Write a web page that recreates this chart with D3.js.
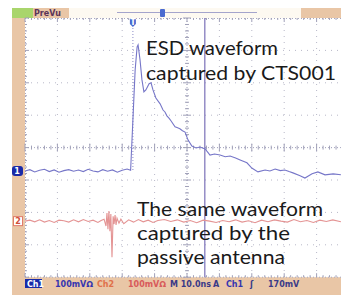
<!doctype html>
<html>
<head>
<meta charset="utf-8">
<style>
  body { margin: 0; background: #fff; }
  .note { font-family: Lato, "Noto Sans", sans-serif; font-size: 19px; fill: #1a1a1a; }
  .stat { font-family: "DejaVu Sans", sans-serif; font-size: 8px; font-weight: bold; }
</style>
<script src="https://d3js.org/d3.v7.min.js"></script>
</head>
<body>
<svg width="341" height="295"></svg>
<script>
// time in ns (10 ns/div), amplitude in mV relative to each channel's marker (100 mV/div)
var ch1Time = [0,1.5,3,4.5,6,7.5,9,10.5,12,13.5,15,16.5,18,19.5,21,22.5,24,25.5,27,28.5,30,31.5,32.6,33.3,34,34.6,34.9,35.5,36.1,36.7,37.3,38.3,38.9,39.5,40.4,41.2,41.7,42.6,43.2,43.8,44.5,45.1,46.3,47.1,47.8,48.6,49.4,50.3,51.5,52.8,54,55.6,57.1,58.5,60.2,61.8,63.3,65,66.4,68.5,70,71.9,74.1,75.6,77.2,78.8,80.2,81.5,82.7,84.9,86.4,88.6,90.4,92.6,95.1,97.5];
var ch1Val  = [0,4,-3,2,5,-2,3,-4,1,4,-1,3,-2,5,0,-3,4,-1,3,-4,2,6,2,157,312,383,389,343,281,244,250,269,272,250,225,214,207,188,182,170,162,154,136,133,130,124,120,96,77,71,74,68,49,52,49,44,46,40,34,25,9,-3,3,0,6,1,3,-2,-6,-15,-22,-9,-3,-12,-9,-12];
var ch2Time = [0,1.5,3,4.5,6,7.5,9,10.5,12,13.5,15,16.5,18,19.5,21,22.5,23.5,24.4,25,25.3,25.6,25.9,26.2,26.5,26.85,27.2,27.5,27.8,28.1,28.4,29,29.6,30.5,32,33.5,35,36.5,38,39.5,41,43,45,47,49,51,53,55,57,59,61,63,65,67,69,71,73,75,77,79,81,83,85,87,89,91,93,95,97.5];
var ch2Val  = [0,3,-2,4,-3,2,-4,3,1,-3,4,-2,5,-1,3,-4,2,6,-15,25,-25,31,-31,22,-111,15,-9,19,-12,9,-6,6,-8,4,-3,5,-2,3,-4,2,5,-1,4,-3,2,-5,3,0,-4,2,-2,4,-3,1,-5,3,-2,4,0,-3,5,-2,2,-4,3,-1,4,-2];
var ch1Offset = -72;   // ch1 ground marker, mV from screen centre
var ch2Offset = -227;  // ch2 ground marker
var statusItems = [
  {t: "Ch1", x: 27, c: "#fff"},
  {t: "100mV\u2126", x: 55, c: "#3535b0"},
  {t: "Ch2", x: 97, c: "#e0704a"},
  {t: "100mV\u2126", x: 128, c: "#d85a5a"},
  {t: "M 10.0ns", x: 170, c: "#3a3a88"},
  {t: "A", x: 213, c: "#3a3a88"},
  {t: "Ch1", x: 226, c: "#3535b0"},
  {t: "\u0283", x: 250, c: "#3a3a88"},
  {t: "170mV", x: 268, c: "#3a3a88"}
];

var svg = d3.select("svg");
var plotLeft = 25, plotTop = 18, div = 32.4;
var x = d3.scaleLinear().domain([0, 100]).range([plotLeft, plotLeft + 10 * div]);
var y = d3.scaleLinear().domain([-400, 400]).range([plotTop + 8 * div, plotTop]);

// frame
svg.append("rect").attr("x", 12).attr("y", 8).attr("width", 329).attr("height", 287).attr("fill", "#e9c6a6");
svg.append("rect").attr("x", 12).attr("y", 8).attr("width", 21).attr("height", 10).attr("fill", "#a9d56c");
svg.append("text").attr("x", 34).attr("y", 16).attr("class", "stat").attr("font-size", 9)
   .attr("fill", "#5a3458").text("PreVu");
svg.append("rect").attr("x", 69).attr("y", 8).attr("width", 232).attr("height", 10).attr("fill", "#fdf9f1");
svg.append("line").attr("x1", 117).attr("x2", 257).attr("y1", 12.5).attr("y2", 12.5)
   .attr("stroke", "#a4a4cc").attr("stroke-width", 1.2);
svg.append("rect").attr("x", 160).attr("y", 9).attr("width", 5).attr("height", 8).attr("rx", 1).attr("fill", "#4a6ad0");

var plotW = 341 - plotLeft, plotH = 8 * div;
svg.append("rect").attr("x", plotLeft).attr("y", plotTop).attr("width", plotW).attr("height", plotH).attr("fill", "#fff");

var g = svg.append("g");
// dotted graticule
d3.range(1, 10).forEach(function(i) {
  g.append("line").attr("x1", plotLeft + i * div).attr("x2", plotLeft + i * div).attr("y1", plotTop).attr("y2", plotTop + plotH)
   .attr("stroke", "#b8b8c8").attr("stroke-dasharray", "1,5").attr("stroke-width", 1);
});
d3.range(1, 8).forEach(function(i) {
  g.append("line").attr("x1", plotLeft).attr("x2", 341).attr("y1", plotTop + i * div).attr("y2", plotTop + i * div)
   .attr("stroke", "#b8b8c8").attr("stroke-dasharray", "1,5").attr("stroke-width", 1);
});
// centre axes and border with minor ticks
var cx = plotLeft + 5 * div, cy = plotTop + 4 * div;
var dotted = [
  [cx, plotTop, cx, plotTop + plotH],
  [plotLeft, cy, 341, cy],
  [plotLeft, plotTop + 0.5, 341, plotTop + 0.5],
  [plotLeft, plotTop + plotH, 341, plotTop + plotH],
  [plotLeft + 0.5, plotTop, plotLeft + 0.5, plotTop + plotH]
];
dotted.forEach(function(l) {
  g.append("line").attr("x1", l[0]).attr("y1", l[1]).attr("x2", l[2]).attr("y2", l[3])
   .attr("stroke", "#a8a8c0").attr("stroke-dasharray", "1,2");
});
d3.range(0, 51).forEach(function(i) {
  var xx = plotLeft + i * div / 5;
  if (xx > 341) return;
  var h = i % 5 === 0 ? 4 : 2;
  g.append("line").attr("x1", xx).attr("x2", xx).attr("y1", cy - h).attr("y2", cy + h).attr("stroke", "#a0a0b8");
  g.append("line").attr("x1", xx).attr("x2", xx).attr("y1", plotTop).attr("y2", plotTop + h).attr("stroke", "#a0a0b8");
  g.append("line").attr("x1", xx).attr("x2", xx).attr("y1", plotTop + plotH - h).attr("y2", plotTop + plotH).attr("stroke", "#a0a0b8");
});
d3.range(0, 41).forEach(function(i) {
  var yy = plotTop + i * div / 5;
  var h = i % 5 === 0 ? 4 : 2;
  g.append("line").attr("x1", cx - h).attr("x2", cx + h).attr("y1", yy).attr("y2", yy).attr("stroke", "#a0a0b8");
  g.append("line").attr("x1", plotLeft).attr("x2", plotLeft + h).attr("y1", yy).attr("y2", yy).attr("stroke", "#a0a0b8");
});

// trigger line and cursor
var trigT = 33.3;
g.append("line").attr("x1", x(trigT)).attr("x2", x(trigT)).attr("y1", plotTop + 10).attr("y2", y(ch1Offset))
 .attr("stroke", "#8a8ac8").attr("stroke-dasharray", "1,2");
g.append("line").attr("x1", x(55.5)).attr("x2", x(55.5)).attr("y1", plotTop).attr("y2", plotTop + plotH)
 .attr("stroke", "#7a70b8").attr("stroke-width", 1.2);

var line = d3.line().x(function(d) { return x(d[0]); }).y(function(d) { return y(d[1]); });
g.append("path").datum(d3.zip(ch2Time, ch2Val.map(function(v) { return v + ch2Offset; })))
 .attr("d", line).attr("fill", "none").attr("stroke", "#e49494").attr("stroke-width", 1.1);
g.append("path").datum(d3.zip(ch1Time, ch1Val.map(function(v) { return v + ch1Offset; })))
 .attr("d", line).attr("fill", "none").attr("stroke", "#7676c8").attr("stroke-width", 1.1);

// trigger marker
svg.append("path").attr("d", "M" + (x(trigT) - 3) + "," + (plotTop + 1) + "h6v5l-3,3l-3,-3z").attr("fill", "#4a6ad0");
svg.append("text").attr("x", x(trigT)).attr("y", plotTop + 7).attr("text-anchor", "middle").attr("class", "stat")
   .attr("font-size", 6).attr("fill", "#fff").text("T");

// channel markers
svg.append("rect").attr("x", 12).attr("y", y(ch1Offset) - 5).attr("width", 11).attr("height", 10).attr("rx", 3).attr("fill", "#1a2aa8");
svg.append("text").attr("x", 17).attr("y", y(ch1Offset) + 3).attr("text-anchor", "middle").attr("class", "stat").attr("fill", "#fff").text("1");
svg.append("rect").attr("x", 13.5).attr("y", y(ch2Offset) - 4.5).attr("width", 9).attr("height", 9).attr("fill", "#fff").attr("stroke", "#e07a6a");
svg.append("text").attr("x", 18).attr("y", y(ch2Offset) + 3).attr("text-anchor", "middle").attr("class", "stat").attr("fill", "#d0503a").text("2");

// annotations
var notes = [
  {t: "ESD waveform", x: 146, y: 55, w: 132},
  {t: "captured by CTS001", x: 146, y: 80, w: 190},
  {t: "The same waveform", x: 137, y: 216, w: 186},
  {t: "captured by the", x: 137, y: 240, w: 153},
  {t: "passive antenna", x: 137, y: 264, w: 148}
];
notes.forEach(function(n) {
  svg.append("text").attr("class", "note").attr("x", n.x).attr("y", n.y)
     .attr("textLength", n.w).attr("lengthAdjust", "spacingAndGlyphs").text(n.t);
});

// status bar
svg.append("rect").attr("x", 25).attr("y", 279).attr("width", 17).attr("height", 9).attr("fill", "#1a2aa8");
statusItems.forEach(function(s) {
  svg.append("text").attr("class", "stat").attr("x", s.x).attr("y", 287).attr("fill", s.c).text(s.t);
});
</script>
</body>
</html>
